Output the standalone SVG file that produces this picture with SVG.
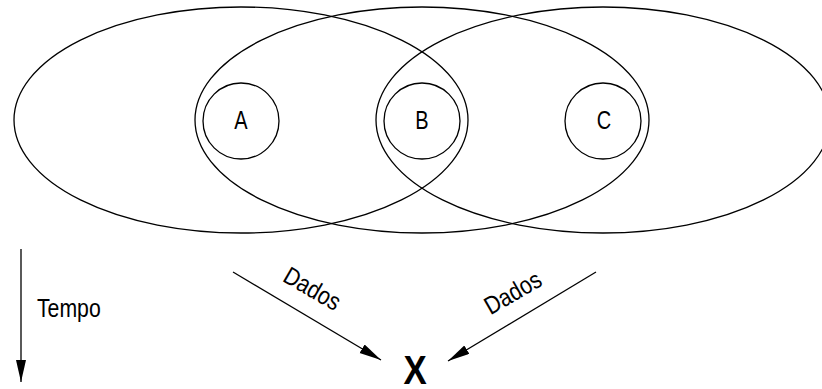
<svg xmlns="http://www.w3.org/2000/svg" width="822" height="389" viewBox="0 0 822 389">
<style>
.sh{fill:none;stroke:#000;stroke-width:1.3}
.ln{fill:none;stroke:#000;stroke-width:1.3}
.lb{font-family:"Liberation Sans",Arial,sans-serif;font-size:25px;fill:#000}
.x{font-family:"Liberation Sans",Arial,sans-serif;font-size:41px;font-weight:bold;fill:#000}
</style>
<defs>
<marker id="ah" markerUnits="userSpaceOnUse" markerWidth="24" markerHeight="12" refX="22" refY="5" orient="auto">
<path d="M0,0 L22,5 L0,10 z" fill="#000"/>
</marker>
</defs>
<g id="sets">
<ellipse id="set1" class="sh" cx="241" cy="120" rx="227" ry="113"/>
<ellipse id="set2" class="sh" cx="422" cy="120" rx="227" ry="113"/>
<ellipse id="set3" class="sh" cx="603" cy="120" rx="227" ry="113"/>
</g>
<g id="nodeA">
<circle class="sh" cx="241" cy="121" r="38"/>
<text class="lb" transform="translate(241,129) scale(0.8,1)" text-anchor="middle">A</text>
</g>
<g id="nodeB">
<circle class="sh" cx="422" cy="121" r="38"/>
<text class="lb" transform="translate(422,129) scale(0.8,1)" text-anchor="middle">B</text>
</g>
<g id="nodeC">
<circle class="sh" cx="603" cy="121" r="38"/>
<text class="lb" transform="translate(604,129) scale(0.8,1)" text-anchor="middle">C</text>
</g>
<g id="nodeX">
<text class="x" transform="translate(415,384) scale(0.85,1)" text-anchor="middle">X</text>
</g>
<g id="connectors">
<line class="ln" x1="21" y1="249" x2="21" y2="382" marker-end="url(#ah)"/>
<line class="ln" x1="233" y1="272" x2="381" y2="360" marker-end="url(#ah)"/>
<line class="ln" x1="596" y1="272" x2="448" y2="361" marker-end="url(#ah)"/>
</g>
<g id="labels">
<text class="lb" transform="translate(37,317) scale(0.85,1)">Tempo</text>
<text class="lb" transform="translate(308,296) rotate(30) scale(0.85,1)" text-anchor="middle">Dados</text>
<text class="lb" transform="translate(517,300) rotate(-30) scale(0.85,1)" text-anchor="middle">Dados</text>
</g>
</svg>
